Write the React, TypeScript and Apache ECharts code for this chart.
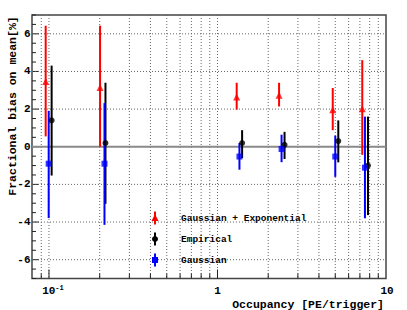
import React, { useEffect, useRef } from "react";
import * as echarts from "echarts";

// ---- data ----
const occGausExp = [0.0956, 0.201, 1.3, 2.32, 4.83, 7.23];
const biasGausExp = [3.47, 3.15, 2.64, 2.73, 1.96, 2.02];
const hiGausExp = [6.43, 6.43, 3.4, 3.4, 3.12, 4.6];
const loGausExp = [0.55, 0.0, 1.97, 2.14, 0.88, -0.43];

const occEmp = [0.1037, 0.2164, 1.4, 2.5, 5.21, 7.82];
const biasEmp = [1.4, 0.2, 0.2, 0.1, 0.3, -1.0];
const hiEmp = [4.31, 3.4, 0.88, 0.79, 1.4, 1.6];
const loEmp = [-1.53, -3.03, -0.6, -0.65, -0.83, -3.63];

const occGaus = [0.0996, 0.2135, 1.35, 2.4, 5.0, 7.5];
const biasGaus = [-0.9, -0.9, -0.52, -0.12, -0.52, -1.11];
const hiGaus = [1.91, 2.32, 0.2, 0.64, 0.59, 1.6];
const loGaus = [-3.79, -4.15, -1.22, -0.82, -1.6, -3.8];

const xGridValues = [0.09, 0.1, 0.2, 0.3, 0.4, 0.5, 0.6, 0.7, 0.8, 0.9, 1, 2, 3, 4, 5, 6, 7, 8, 9];
const xMajorValues = [0.1, 1, 10];
const xLabelTexts = ["10{sup|-1}", "1", "10"];
const yMajorValues = [-6, -4, -2, 0, 2, 4, 6];
const yLabelTexts = ["-6", "-4", "-2", "0", "2", "4", "6"];
const yMinorValues = [-7, -6.5, -6, -5.5, -5, -4.5, -4, -3.5, -3, -2.5, -2, -1.5, -1, -0.5, 0, 0.5, 1, 1.5, 2, 2.5, 3, 3.5, 4, 4.5, 5, 5.5, 6, 6.5, 7];

const legendNames = ["Gaussian + Exponential", "Empirical", "Gaussian"];
const xTitle = "Occupancy [PE/trigger]";
const yTitle = "Fractional bias on mean[%]";

const X_MIN = 0.0793;
const X_MAX = 10;
const Y_MIN = -7;
const Y_MAX = 7;

const RED = "#ff0000";
const BLACK = "#000000";
const BLUE = "#0000ff";
const FONT = "Liberation Mono";

function errSeries(name: string, xs: number[], lo: number[], hi: number[], color: string) {
  return {
    type: "custom",
    name,
    data: xs.map((x, i) => [x, lo[i], hi[i]]),
    z: 5,
    renderItem: (params: any, api: any) => {
      const a = api.coord([api.value(0), api.value(1)]);
      const b = api.coord([api.value(0), api.value(2)]);
      return {
        type: "line",
        shape: { x1: a[0], y1: a[1], x2: b[0], y2: b[1] },
        style: { stroke: color, lineWidth: 2 },
      };
    },
  };
}

function markerSeries(name: string, xs: number[], ys: number[], color: string, symbol: string, size: number) {
  return {
    type: "scatter",
    name,
    data: xs.map((x, i) => [x, ys[i]]),
    symbol,
    symbolSize: size,
    itemStyle: { color },
    z: 6,
  };
}

export default function App() {
  const ref = useRef<HTMLDivElement>(null);
  useEffect(() => {
    if (!ref.current) return;
    const chart = echarts.init(ref.current, undefined, { renderer: "svg" });

    const xDecor = {
      type: "custom",
      name: "xdecor",
      data: xGridValues.map((v) => [v, 0]),
      z: 1,
      silent: true,
      renderItem: (params: any, api: any) => {
        const cs = params.coordSys;
        const v = api.value(0);
        const p = api.coord([v, 0]);
        const major = xMajorValues.indexOf(v) >= 0;
        const bottom = cs.y + cs.height;
        return {
          type: "group",
          children: [
            {
              type: "line",
              shape: { x1: p[0], y1: cs.y, x2: p[0], y2: bottom },
              style: { stroke: "#666", lineWidth: 1, lineDash: [1, 2] },
            },
            {
              type: "line",
              shape: { x1: p[0], y1: bottom, x2: p[0], y2: bottom - (major ? 9 : 5) },
              style: { stroke: "#222", lineWidth: 1 },
            },
          ],
        };
      },
    };

    const xLabels = {
      type: "custom",
      name: "xlabels",
      data: xMajorValues.map((v, i) => [v, 0, i]),
      z: 2,
      silent: true,
      clip: false,
      renderItem: (params: any, api: any) => {
        const cs = params.coordSys;
        const p = api.coord([api.value(0), 0]);
        const idx = api.value(2);
        return {
          type: "text",
          x: p[0] + (idx === 0 ? 4 : idx === 2 ? 1 : 0),
          y: cs.y + cs.height + 12.5,
          style: {
            text: xLabelTexts[idx],
            align: "center",
            verticalAlign: "middle",
            fill: "#000",
            font: `bold 11px "${FONT}"`,
            rich: { sup: { fontSize: 7, fontWeight: "bold", fontFamily: FONT, verticalAlign: "top", padding: [0, 0, 7, 0] } },
          },
        };
      },
    };

    const yDecor = {
      type: "custom",
      name: "ydecor",
      data: yMinorValues.map((v) => [X_MAX, v]),
      z: 1,
      silent: true,
      renderItem: (params: any, api: any) => {
        const cs = params.coordSys;
        const v = api.value(1);
        const p = api.coord([1, v]);
        const mi = yMajorValues.indexOf(v);
        const children: any[] = [
          {
            type: "line",
            shape: { x1: cs.x, y1: p[1], x2: cs.x + (mi >= 0 ? 7 : 4), y2: p[1] },
            style: { stroke: "#222", lineWidth: 1 },
          },
        ];
        if (mi >= 0) {
          if (v === 0) {
            children.push({
              type: "line",
              shape: { x1: cs.x, y1: p[1], x2: cs.x + cs.width, y2: p[1] },
              style: { stroke: "#8a8a8a", lineWidth: 2 },
            });
          } else {
            children.push({
              type: "line",
              shape: { x1: cs.x, y1: p[1], x2: cs.x + cs.width, y2: p[1] },
              style: { stroke: "#666", lineWidth: 1, lineDash: [1, 2] },
            });
          }
          children.push({
            type: "text",
            x: cs.x - 1.5,
            y: p[1],
            style: {
              text: yLabelTexts[mi],
              align: "right",
              verticalAlign: "middle",
              fill: "#000",
              font: `bold 11px "${FONT}"`,
            },
          });
        }
        return { type: "group", children };
      },
    };

    const legendRows = [
      { y: 218, color: RED, shape: "tri" },
      { y: 239, color: BLACK, shape: "circ" },
      { y: 260, color: BLUE, shape: "sq" },
    ];
    const legendGraphics: any[] = [];
    legendRows.forEach((r, i) => {
      const mx = 155;
      legendGraphics.push({
        type: "line",
        shape: { x1: mx, y1: r.y - 6.5, x2: mx, y2: r.y + 6.5 },
        style: { stroke: r.color, lineWidth: 2 },
        z: 10,
      });
      if (r.shape === "tri") {
        legendGraphics.push({
          type: "polygon",
          shape: { points: [[mx, r.y - 4], [mx + 3.5, r.y + 3], [mx - 3.5, r.y + 3]] },
          style: { fill: r.color },
          z: 11,
        });
      } else if (r.shape === "circ") {
        legendGraphics.push({ type: "circle", shape: { cx: mx, cy: r.y, r: 3 }, style: { fill: r.color }, z: 11 });
      } else {
        legendGraphics.push({ type: "rect", shape: { x: mx - 3, y: r.y - 3, width: 6, height: 6 }, style: { fill: r.color }, z: 11 });
      }
      legendGraphics.push({
        type: "text",
        x: 181,
        y: r.y,
        style: {
          text: legendNames[i],
          fill: "#000",
          font: `bold 9.5px "${FONT}"`,
          align: "left",
          verticalAlign: "middle",
        },
        z: 11,
      });
    });

    chart.setOption({
      animation: false,
      backgroundColor: "#ffffff",
      grid: {
        left: 32,
        right: 21,
        top: 15,
        bottom: 31.5,
        show: true,
        borderColor: "#444",
        borderWidth: 1.5,
        backgroundColor: "transparent",
      },
      xAxis: {
        type: "log",
        logBase: 10,
        min: X_MIN,
        max: X_MAX,
        axisLine: { show: false },
        axisTick: { show: false },
        axisLabel: { show: false },
        splitLine: { show: false },
      },
      yAxis: {
        type: "value",
        min: Y_MIN,
        max: Y_MAX,
        axisLine: { show: false },
        axisTick: { show: false },
        axisLabel: { show: false },
        splitLine: { show: false },
      },
      graphic: [
        {
          type: "text",
          x: 12.5,
          y: 106,
          rotation: Math.PI / 2,
          style: {
            text: yTitle,
            fill: "#000",
            font: `bold 11.5px "${FONT}"`,
            align: "center",
            verticalAlign: "middle",
          },
        },
        {
          type: "text",
          x: 384,
          y: 304,
          style: {
            text: xTitle,
            fill: "#000",
            font: `bold 11.5px "${FONT}"`,
            align: "right",
            verticalAlign: "middle",
          },
        },
        ...legendGraphics,
      ],
      series: [
        xDecor,
        yDecor,
        xLabels,
        errSeries("errGausExp", occGausExp, loGausExp, hiGausExp, RED),
        errSeries("errEmp", occEmp, loEmp, hiEmp, BLACK),
        errSeries("errGaus", occGaus, loGaus, hiGaus, BLUE),
        markerSeries(legendNames[0], occGausExp, biasGausExp, RED, "triangle", 7),
        markerSeries(legendNames[1], occEmp, biasEmp, BLACK, "circle", 6),
        markerSeries(legendNames[2], occGaus, biasGaus, BLUE, "rect", 6),
      ],
    } as any);
    return () => chart.dispose();
  }, []);
  return <div ref={ref} style={{ position: "fixed", left: 0, top: 0, width: 407, height: 310 }} />;
}
